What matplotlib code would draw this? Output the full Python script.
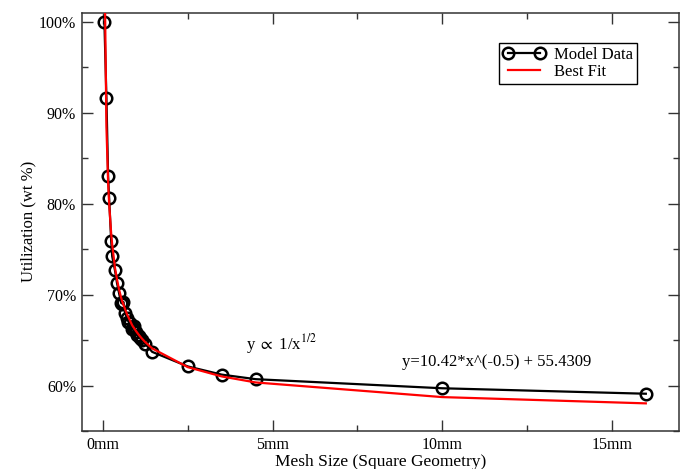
import matplotlib
matplotlib.use('Agg')
import matplotlib.pyplot as plt
from matplotlib.ticker import MultipleLocator

# mesh size (mm) and utilization (wt %)
mesh_size = [0.04, 0.10, 0.15, 0.18, 0.24, 0.27, 0.35, 0.41, 0.47, 0.53,
             0.57, 0.60, 0.65, 0.71, 0.75, 0.80, 0.85, 0.88, 0.92, 0.97,
             1.00, 1.06, 1.10, 1.15, 1.24, 1.45, 2.5, 3.5, 4.5, 10.0, 16.0]
utilization = [100.0, 91.6, 83.0, 80.6, 75.9, 74.2, 72.7, 71.3, 70.2, 69.1,
               69.0, 69.2, 68.0, 67.4, 67.0, 66.9, 66.2, 66.3, 66.5, 65.9,
               65.6, 65.4, 65.2, 65.0, 64.6, 63.7, 62.1, 61.2, 60.7, 59.7, 59.1]
best_fit = [107.5, 88.4, 82.3, 80.0, 76.7, 75.5, 73.0, 71.7, 70.6, 69.7,
            69.2, 68.9, 68.4, 67.8, 67.5, 67.1, 66.7, 66.5, 66.3, 66.0,
            65.85, 65.55, 65.37, 65.15, 64.79, 64.08, 62.02, 61.0, 60.34, 58.73, 58.04]

x_ticks = [0, 5, 10, 15]
x_tick_labels = ['0mm', '5mm', '10mm', '15mm']
y_ticks = [60, 70, 80, 90, 100]
y_tick_labels = ['60%', '70%', '80%', '90%', '100%']

plt.rcParams['font.family'] = ['Liberation Serif', 'DejaVu Serif']
plt.rcParams['mathtext.fontset'] = 'stix'

fig = plt.figure(figsize=(6.84, 4.69), dpi=100)
ax = fig.add_axes([0.1194, 0.081, 0.8729, 0.8919])

ax.plot(mesh_size, utilization, color='black', lw=1.6, marker='o',
        markersize=8.3, markerfacecolor='none', markeredgewidth=1.8,
        markeredgecolor='black', label='Model Data', zorder=2)
ax.plot(mesh_size, best_fit, color='red', lw=1.6, label='Best Fit', zorder=3)

ax.set_xlim(-0.63, 16.97)
ax.set_ylim(55.0, 101.0)
ax.set_xticks(x_ticks)
ax.set_xticklabels(x_tick_labels)
ax.set_yticks(y_ticks)
ax.set_yticklabels(y_tick_labels)
ax.xaxis.set_minor_locator(MultipleLocator(2.5))
ax.yaxis.set_minor_locator(MultipleLocator(5))

ax.tick_params(which='both', direction='in', top=True, right=True,
               width=1.0, color='#333333', labelsize=11.5)
ax.tick_params(which='major', length=8)
ax.tick_params(axis='x', which='major', pad=4)
ax.tick_params(axis='y', which='major', pad=4)
ax.tick_params(which='minor', length=4.5)
for s in ax.spines.values():
    s.set_linewidth(1.1)
    s.set_color('#333333')

ax.set_xlabel('Mesh Size (Square Geometry)', fontsize=12.5, labelpad=1)
ax.set_ylabel('Utilization (wt %)', fontsize=12, labelpad=2)

ax.text(4.2, 64.0, r'y $\propto$ 1/x$^{1/2}$', fontsize=12)
ax.text(8.81, 62.1, 'y=10.42*x^(-0.5) + 55.4309', fontsize=12)

leg = ax.legend(loc='upper right', bbox_to_anchor=(0.9307, 0.928),
                borderaxespad=0, fancybox=False, framealpha=1,
                edgecolor='black', fontsize=12, numpoints=2,
                handlelength=2.5, handletextpad=0.55, borderpad=0.25,
                labelspacing=0.05)
leg.get_frame().set_linewidth(1.0)

fig.savefig('out.png', dpi=100)
